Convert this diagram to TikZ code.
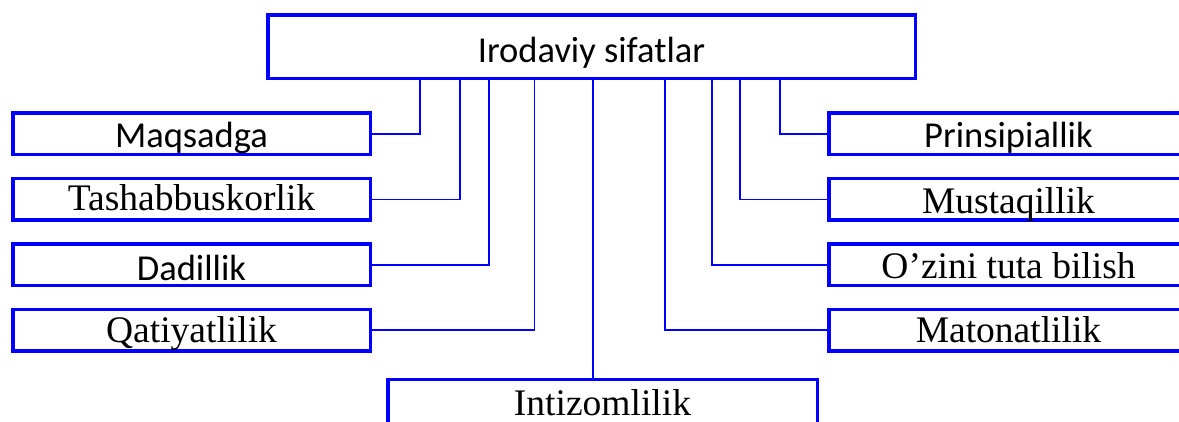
\documentclass[tikz,border=0pt]{standalone}
\usepackage{fontspec}
\newfontfamily\carlito{Carlito}
\newfontfamily\tnr{Liberation Serif}
\begin{document}
\begin{tikzpicture}[x=1pt,y=-1pt,
  box/.style={draw=blue,line width=3.5pt,fill=white,inner sep=0pt,text depth=0pt},
  lbox/.style={box,minimum width=357.5pt,minimum height=41.5pt},
  rbox/.style={box,minimum width=359.5pt,minimum height=41.5pt},
  sans/.style={font=\fontsize{36.5}{42}\selectfont\carlito},
  serif/.style={font=\fontsize{37.5}{42}\selectfont\tnr},
  conn/.style={draw=blue,line width=1.5pt}]
\useasboundingbox (0,0) rectangle (1179,421);
\clip (0,0) rectangle (1179,421);
% top
\node[box,sans,minimum width=647.5pt,minimum height=63.5pt,text height=31.6pt] (top) at (591.5,46.5) {Irodaviy sifatlar};
% left column
\node[lbox,sans,text height=26.6pt] (maq) at (191.5,133.75) {Maqsadga};
\node[lbox,serif,text height=21.4pt] (tash) at (191.5,199.3) {Tashabbuskorlik};
\node[lbox,sans,text height=31.8pt] (dad) at (191.5,264.8) {Dadillik};
\node[lbox,serif,text height=25.4pt] (qat) at (191.5,330) {Qatiyatlilik};
% bottom
\node[box,serif,minimum width=429.5pt,minimum height=46pt,text height=25pt] (int) at (602.5,402.5) {Intizomlilik};
% right column
\node[rbox,sans,text height=26.6pt] (pri) at (1008.5,133.75) {Prinsipiallik};
\node[rbox,serif,text height=28pt] (mus) at (1008.5,199.3) {Mustaqillik};
\node[rbox,serif,text height=27pt] (ozi) at (1008.5,264.8) {O’zini tuta bilish};
\node[rbox,serif,text height=25.4pt] (mat) at (1008.5,330) {Matonatlilik};
% connectors
\draw[conn] ([xshift=-171.5pt]top.south) |- (maq.east);
\draw[conn] ([xshift=-131.5pt]top.south) |- (tash.east);
\draw[conn] ([xshift=-102.5pt]top.south) |- (dad.east);
\draw[conn] ([xshift=-57pt]top.south) |- (qat.east);
\draw[conn] ([xshift=1.5pt]top.south) -- ([xshift=1.5pt]top.south |- int.north);
\draw[conn] ([xshift=73.5pt]top.south) |- (mat.west);
\draw[conn] ([xshift=120.5pt]top.south) |- (ozi.west);
\draw[conn] ([xshift=148.5pt]top.south) |- (mus.west);
\draw[conn] ([xshift=188.5pt]top.south) |- (pri.west);
\end{tikzpicture}
\end{document}
